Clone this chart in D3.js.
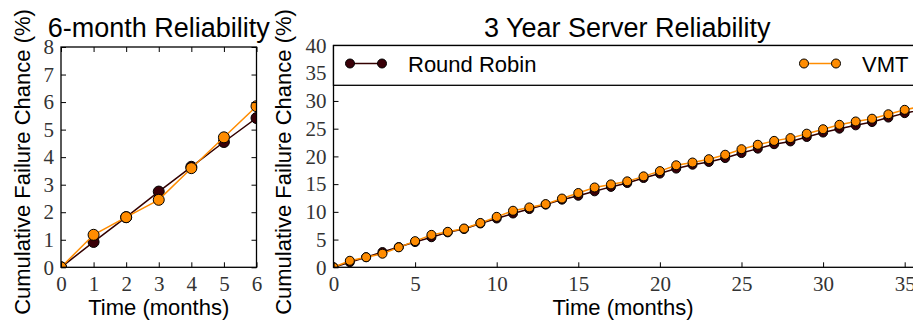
<!DOCTYPE html>
<html>
<head>
<meta charset="utf-8">
<script src="https://cdn.jsdelivr.net/npm/d3@7"></script>
<style>
  body { margin: 0; background: #fff; }
  svg { display: block; }
  .tick text { font-family: "Liberation Serif", "DejaVu Serif", serif; font-size: 21px; fill: #333; }
  .lbl { font-family: "Liberation Sans", Arial, sans-serif; font-size: 22px; fill: #000; }
  .ttl { font-family: "Liberation Sans", Arial, sans-serif; font-size: 27px; fill: #000; }
</style>
</head>
<body>
<svg id="chart" width="913" height="324"></svg>
<script>
// months and cumulative failure chance (%) per strategy
var MONTHS = d3.range(0, 37);
var RR = [0, 0.92, 1.82, 2.75, 3.65, 4.55, 5.42, 6.3, 6.9, 7.9, 8.8, 9.7, 10.5, 11.3, 12.2, 12.9, 13.7, 14.5,
  15.2, 16.1, 16.9, 17.8, 18.5, 19.0, 19.7, 20.6, 21.4, 22.2, 22.7, 23.5, 24.3, 25.0, 25.6, 26.2, 27.0, 27.8, 28.4];
var VMT = [0, 1.18, 1.82, 2.45, 3.6, 4.72, 5.85, 6.4, 7.0, 8.0, 9.1, 10.2, 10.8, 11.4, 12.4, 13.4, 14.4, 14.95,
  15.5, 16.4, 17.35, 18.4, 18.9, 19.5, 20.3, 21.3, 22.1, 22.8, 23.3, 24.1, 24.9, 25.7, 26.3, 26.8, 27.6, 28.4, 29.0];
var SHORT_MONTHS = 6;
var SERIES = [
  {name: 'Round Robin', values: RR, color: '#330000', fill: '#3a0008'},
  {name: 'VMT', values: VMT, color: '#ff8c00', fill: '#ff8c00'}
];
var YLABEL = 'Cumulative Failure Chance (%)',
XLABEL = 'Time (months)';

var svg = d3.select('#chart');

function panel(opt) {
  var x = d3.scaleLinear().domain(opt.xDomain).range([opt.left, opt.right]);
  var y = d3.scaleLinear().domain(opt.yDomain).range([opt.bottom, opt.top]);
  var g = svg.append('g');
  var clipId = 'clip' + opt.id;
  svg.append('clipPath').attr('id', clipId)
    .append('rect')
    .attr('x', opt.left).attr('y', opt.top)
    .attr('width', opt.right - opt.left).attr('height', opt.bottom - opt.top);

  // series, drawn one after another so the later ones sit on top
  var line = d3.line()
    .x(function(d) { return x(d.t); })
    .y(function(d) { return y(d.v); });
  var plot = g.append('g').attr('clip-path', 'url(#' + clipId + ')');
  SERIES.forEach(function(s) {
    var pts = MONTHS.slice(0, opt.n + 1).map(function(t, i) { return {t: t, v: s.values[i]}; });
    var sg = plot.append('g');
    sg.append('path')
      .datum(pts)
      .attr('d', line)
      .attr('fill', 'none')
      .attr('stroke', s.color)
      .attr('stroke-width', 1.5);
    sg.selectAll('circle')
      .data(pts)
      .enter().append('circle')
      .attr('cx', function(d) { return x(d.t); })
      .attr('cy', function(d) { return y(d.v); })
      .attr('r', opt.r)
      .attr('fill', s.fill)
      .attr('stroke', '#000')
      .attr('stroke-width', 1);
  });

  // axes, ticks pointing inward
  var tl = 5;
  g.append('g').attr('transform', 'translate(0,' + opt.bottom + ')')
    .call(d3.axisBottom(x).tickValues(opt.xTicks).tickSizeInner(-tl).tickSizeOuter(0).tickPadding(9).tickFormat(d3.format('d')));
  g.append('g').attr('transform', 'translate(0,' + opt.top + ')')
    .call(d3.axisTop(x).tickValues(opt.xTicks).tickSizeInner(-tl).tickSizeOuter(0).tickFormat(''));
  g.append('g').attr('transform', 'translate(' + opt.left + ',0)')
    .call(d3.axisLeft(y).tickValues(opt.yTicks).tickSizeInner(-tl).tickSizeOuter(0).tickPadding(7).tickFormat(d3.format('d')));
  g.append('g').attr('transform', 'translate(' + opt.right + ',0)')
    .call(d3.axisRight(y).tickValues(opt.yTicks).tickSizeInner(-tl).tickSizeOuter(0).tickFormat(''));
  g.selectAll('.domain').remove();
  g.selectAll('.tick line').attr('stroke', '#000').attr('stroke-width', 1);
  g.append('rect')
    .attr('x', opt.left).attr('y', opt.top)
    .attr('width', opt.right - opt.left).attr('height', opt.bottom - opt.top)
    .attr('fill', 'none').attr('stroke', '#000').attr('stroke-width', 1.3);

  var cx = (opt.left + opt.right) / 2;
  g.append('text').attr('class', 'ttl')
    .attr('x', cx).attr('y', 37)
    .attr('text-anchor', 'middle')
    .text(opt.title);
  g.append('text').attr('class', 'lbl')
    .attr('x', Math.min(cx, 623)).attr('y', 315)
    .attr('text-anchor', 'middle')
    .text(XLABEL);
  g.append('text').attr('class', 'lbl')
    .attr('transform', 'translate(' + opt.ylabelX + ',162) rotate(-90)')
    .attr('text-anchor', 'middle')
    .text(YLABEL);
  return {x: x, y: y, g: g};
}

panel({id: 1, left: 61, right: 256.5, top: 47, bottom: 267.3,
  xDomain: [0, 6], yDomain: [0, 8], n: SHORT_MONTHS, r: 5.5,
  xTicks: d3.range(0, 7), yTicks: d3.range(0, 9),
  title: '6-month Reliability', ylabelX: 30});

var big = panel({id: 2, left: 333.5, right: 921, top: 45.5, bottom: 267.3,
  xDomain: [0, 36], yDomain: [0, 40], n: 36, r: 4.5,
  xTicks: d3.range(0, 36, 5), yTicks: d3.range(0, 41, 5),
  title: '3 Year Server Reliability', ylabelX: 291});

// legend across the top of the big panel
var lg = big.g.append('g');
lg.append('rect')
  .attr('x', 333.5).attr('y', 45.5)
  .attr('width', 921 - 333.5).attr('height', 85.3 - 45.5)
  .attr('fill', '#fff').attr('stroke', '#000').attr('stroke-width', 1.3);
var legX = [350, 804];
SERIES.forEach(function(s, i) {
  var e = lg.append('g').attr('transform', 'translate(' + legX[i] + ',63.5)');
  e.append('line').attr('x1', 0).attr('x2', 32)
    .attr('stroke', s.color).attr('stroke-width', 1.5);
  e.selectAll('circle').data([0, 32]).enter().append('circle')
    .attr('cx', function(d) { return d; }).attr('r', 4.5)
    .attr('fill', s.fill).attr('stroke', '#000').attr('stroke-width', 1);
  e.append('text').attr('class', 'lbl')
    .attr('x', 58).attr('y', 8)
    .text(s.name);
});
</script>
</body>
</html>
